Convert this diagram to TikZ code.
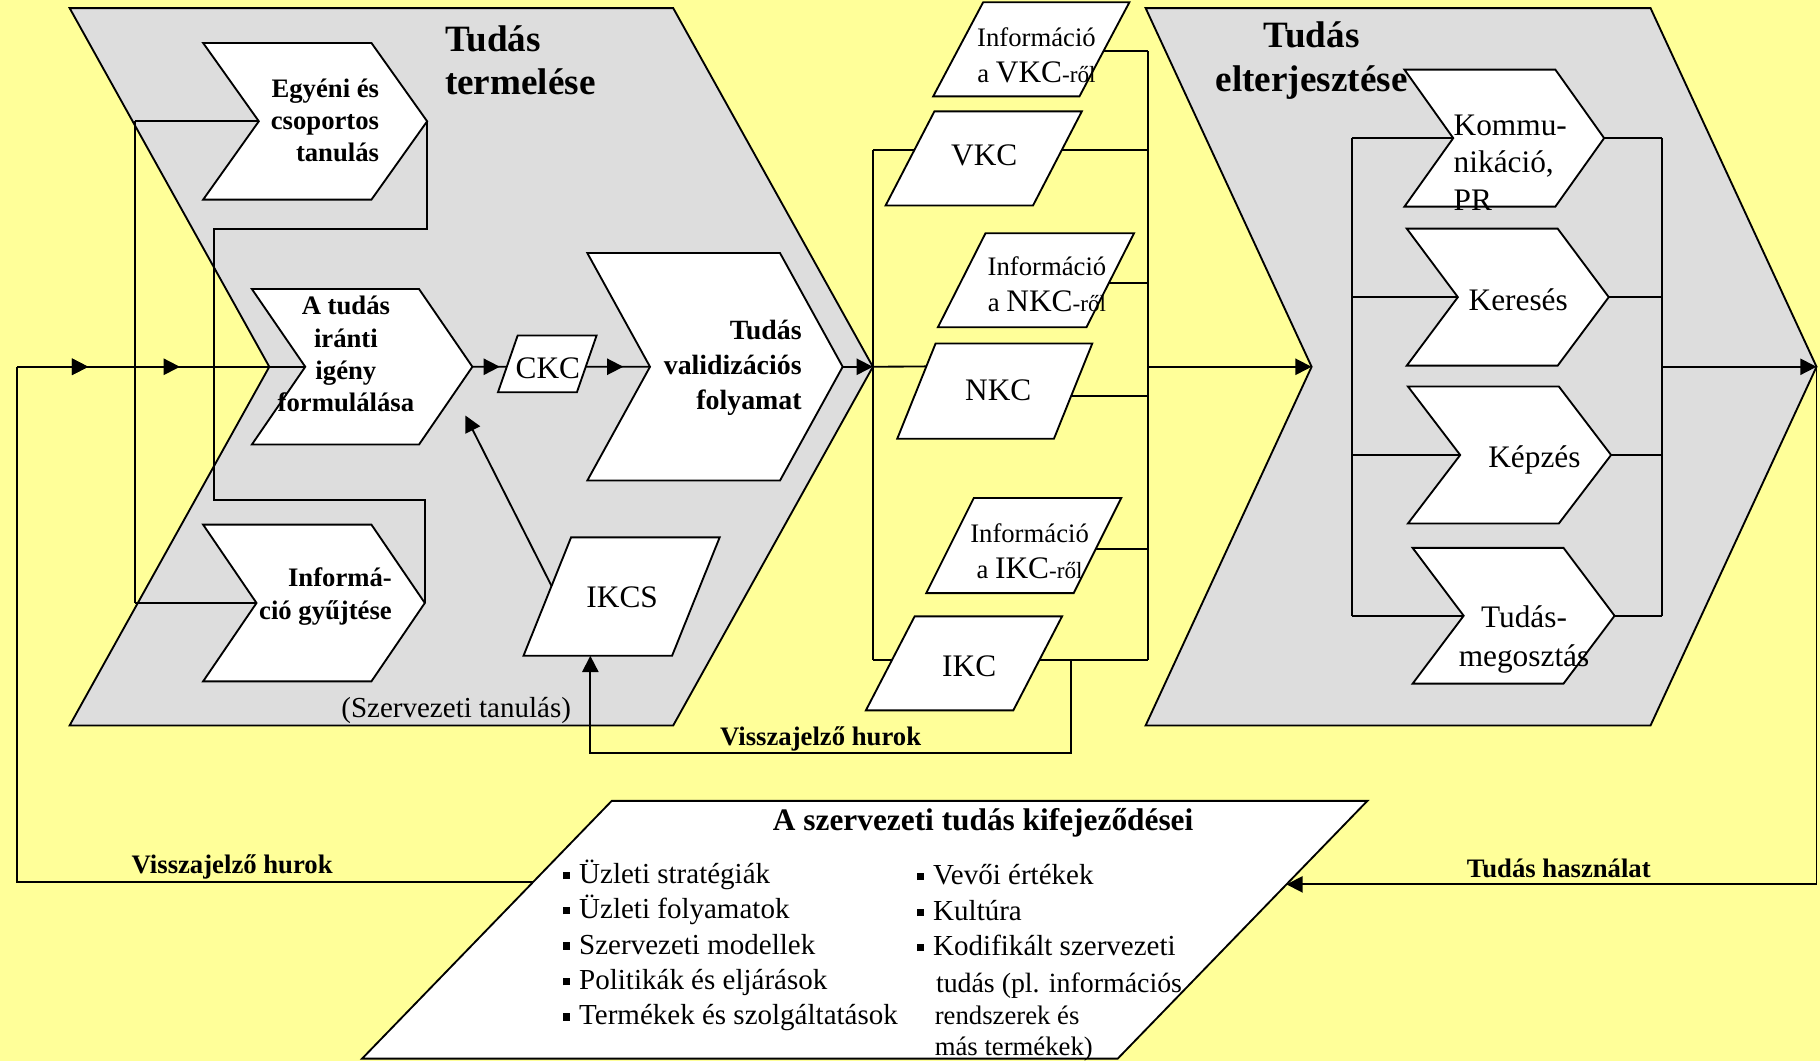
\documentclass[tikz,border=0pt]{standalone}
\usepackage{fontspec}
\setmainfont{Liberation Serif}
\usepackage{tikz}
\usetikzlibrary{calc}
\usetikzlibrary{arrows.meta}
\usetikzlibrary{positioning,decorations.markings}
\definecolor{bgyellow}{RGB}{255,255,153}
\definecolor{shadegray}{RGB}{221,221,221}
% chevron: [style]{name}{left x}{top y}{width}{height}{depth}
\newcommand{\Chevron}[7][SmallChev]{%
\draw[#1] (#3,#4) -- ++(#5,0) -- ++(#7,#6/2) -- ++(-#7,#6/2) -- ++(-#5,0) -- ++(#7,-#6/2) -- cycle;
\coordinate (#2-notch) at (#3+#7,#4+#6/2);
\coordinate (#2-tip) at (#3+#5+#7,#4+#6/2);
}
% parallelogram: [style]{name}{top left x}{top y}{width}{height}{slant}
\newcommand{\Pgram}[7][ParaBox]{%
\draw[#1] (#3,#4) coordinate (#2-tl) -- ++(#5,0) coordinate (#2-tr) -- ++(-#7,#6) coordinate (#2-br) -- ++(-#5,0) coordinate (#2-bl) -- cycle;
}
\newcommand{\fs}[2]{\fontsize{#1}{#2}\selectfont}
\newcommand{\bul}{\rule[.32ex]{2.8pt}{3.2pt}\hspace{4pt}}

\begin{document}
\begin{tikzpicture}[
x=0.5pt,y=-0.5pt,
Lines/.style={draw=black,line width=0.8pt},
Arr/.style={Lines,-{Triangle[length=7pt,width=7pt]}},
BigChev/.style={Lines,fill=shadegray},
SmallChev/.style={Lines,fill=white},
ParaBox/.style={Lines,fill=white},
TitleText/.style={font=\fs{16}{18.8}\bfseries,inner sep=0pt},
BoldText/.style={font=\fs{11.5}{13.85}\bfseries,inner sep=0pt},
BoxText/.style={font=\fs{13.5}{16.25},inner sep=0pt},
InfoText/.style={font=\fs{11.5}{15.5},inner sep=0pt,align=center},
ListText/.style={font=\fs{12.5}{15},inner sep=0pt,anchor=west,text height=9pt,text depth=3pt},
MidArr/.style={Lines,postaction={decorate},decoration={markings,
  mark=at position #1 with {\arrow{Triangle[length=7pt,width=7pt]}}}}
]
\fill[bgyellow] (0,0) rectangle (1568,914);
\useasboundingbox (0,0) rectangle (1568,914);

% big chevrons
\Chevron[BigChev]{bigL}{60}{7}{520}{618}{172}
\Chevron[BigChev]{bigR}{987}{7}{435}{618}{143}

% Tudas termelese
\Chevron{egy}{175}{37}{145}{135}{48}
\Chevron{igeny}{217}{249}{144}{134}{46}
\Chevron{info}{175}{452}{145}{135}{46}
\Chevron{val}{506}{218}{166}{196}{54}
\Pgram{ckc}{446}{289}{68}{49}{17}
\Pgram{ikcs}{492}{463}{128}{102}{41}

% middle column
\Pgram{ivkc}{847}{2}{126}{81}{43}
\Pgram{vkc}{805}{96}{127}{81}{42}
\Pgram{inkc}{849}{201}{128}{81}{41}
\Pgram{nkc}{806}{296}{135}{82}{33}
\Pgram{iikc}{839}{429}{127}{82}{41}
\Pgram{ikc}{788}{531}{127}{81}{42}

% Tudas elterjesztese
\Chevron{komm}{1210}{60}{130}{118}{42}
\Chevron{ker}{1212}{197}{130}{118}{44}
\Chevron{kep}{1213}{333}{130}{118}{45}
\Chevron{meg}{1217}{472}{130}{117}{44}

% bottom
\Pgram{sz}{527}{690}{651}{222}{215}

% attach points
\coordinate (ckc-L) at ($(ckc-tl)!0.55!(ckc-bl)$);
\coordinate (ckc-R) at ($(ckc-tr)!0.55!(ckc-br)$);
\coordinate (ikcs-A) at ($(ikcs-tl)!0.41!(ikcs-bl)$);
\coordinate (ikcs-B) at ($(ikcs-bl)!0.45!(ikcs-br)$);
\coordinate (ivkc-R) at ($(ivkc-tr)!0.52!(ivkc-br)$);
\coordinate (vkc-L) at ($(vkc-tl)!0.41!(vkc-bl)$);
\coordinate (vkc-R) at ($(vkc-tr)!0.41!(vkc-br)$);
\coordinate (inkc-R) at ($(inkc-tr)!0.53!(inkc-br)$);
\coordinate (nkc-L) at ($(nkc-tl)!0.24!(nkc-bl)$);
\coordinate (nkc-R) at ($(nkc-tr)!0.55!(nkc-br)$);
\coordinate (iikc-R) at ($(iikc-tr)!0.54!(iikc-br)$);
\coordinate (ikc-L) at ($(ikc-tl)!0.46!(ikc-bl)$);
\coordinate (ikc-R) at ($(ikc-tr)!0.46!(ikc-br)$);
\coordinate (sz-L) at ($(sz-tl)!0.315!(sz-bl)$);
\coordinate (sz-R) at ($(sz-tr)!0.324!(sz-br)$);
\coordinate (inStart) at (15,316);
\coordinate (busA) at (116,316);
\coordinate (fbTop) at (184,197);
\coordinate (fbBot) at (184,431);
\coordinate (igenyIn) at (401,358);
\coordinate (busR) at (989,316);
\coordinate (fbRight) at (923,649);
\coordinate (rbusL) at (1165,316);
\coordinate (rbusR) at (1432,316);

% connectors, left part
\draw[Lines] (sz-L) -| (inStart);
\draw[MidArr=30.5pt,postaction={decorate,decoration={markings,
  mark=at position 70pt with {\arrow{Triangle[length=7pt,width=7pt]}}}}] (inStart) -- (igeny-notch);
\draw[Lines] (busA |- egy-notch) -- (busA |- info-notch);
\draw[Lines] (busA |- egy-notch) -- (egy-notch);
\draw[Lines] (busA |- info-notch) -- (info-notch);
\draw[Lines] (egy-tip) |- (fbTop) -- (fbBot) -| (info-tip);
\draw[MidArr=-3pt] (igeny-tip) -- (ckc-L);
\draw[MidArr=-11.5pt] (ckc-R) -- (val-notch);
\draw[Arr] (val-tip) -- (bigL-tip);
\draw[Arr] (ikcs-A) -- (igenyIn);

% connectors, middle column
\draw[Lines] (bigL-tip |- vkc-L) -- (bigL-tip |- ikc-L);
\draw[Lines] (bigL-tip |- vkc-L) -- (vkc-L);
\draw[Lines] (bigL-tip) -- (nkc-L);
\draw[Lines] (bigL-tip |- ikc-L) -- (ikc-L);
\draw[Lines] (busR |- ivkc-R) -- (busR |- ikc-R);
\foreach \p in {ivkc,vkc,inkc,nkc,iikc,ikc}
  \draw[Lines] (\p-R) -- (busR |- \p-R);
\draw[Arr] (busR) -- (bigR-notch);
\draw[Arr] (fbRight |- ikc-R) -- (fbRight) -| (ikcs-B);

% connectors, right part
\draw[Lines] (rbusL |- komm-notch) -- (rbusL |- meg-notch);
\draw[Lines] (rbusR |- komm-tip) -- (rbusR |- meg-tip);
\foreach \c in {komm,ker,kep,meg}{
  \draw[Lines] (rbusL |- \c-notch) -- (\c-notch);
  \draw[Lines] (\c-tip) -- (rbusR |- \c-tip);
}
\draw[Arr] (rbusR) -- (bigR-tip);
\draw[Arr] (bigR-tip) |- (sz-R);

% titles
\node[TitleText,anchor=west,align=left] (T1) at (383,52) {Tudás\\termelése};
\node[TitleText,align=center] (T2) at (1130,52) {Tudás\\elterjesztése};

% texts
\node[BoldText,anchor=east,align=right] (egyT) at (327,104) {Egyéni és\\csoportos\\tanulás};
\node[BoldText,align=center] (igenyT) at (298,305) {A tudás\\iránti\\igény\\formulálása};
\node[BoldText,anchor=east,align=right] (infoT) at (338,514) {Informá-\\ció gyűjtése};
\node[BoldText,font=\fs{12}{15}\bfseries,anchor=east,align=right] (valT) at (691,317) {Tudás\\validizációs\\folyamat};
\node[BoxText] (ckcT) at (472,317) {CKC};
\node[BoxText] (ikcsT) at (536,515) {IKCS};
\node[font=\fs{12.5}{15},inner sep=0pt] (szT) at (393,612) {(Szervezeti tanulás)};

\node[InfoText] (ivkcT) at (893,48) {Információ\\a {\fs{13.5}{15.5}VKC}{\fs{10}{15.5}-ről}};
\node[BoxText] (vkcT) at (848,134) {VKC};
\node[InfoText] (inkcT) at (902,245) {Információ\\a {\fs{13.5}{15.5}NKC}{\fs{10}{15.5}-ről}};
\node[BoxText] (nkcT) at (860,336) {NKC};
\node[InfoText] (iikcT) at (887,475) {Információ\\a {\fs{13.5}{15.5}IKC}{\fs{10}{15.5}-ről}};
\node[BoxText] (ikcT) at (835,574) {IKC};

\node[BoxText,anchor=west,align=left] (kommT) at (1252,140) {Kommu-\\nikáció,\\PR};
\node[BoxText] (kerT) at (1308,258) {Keresés};
\node[BoxText] (kepT) at (1322,396) {Képzés};
\node[BoxText,font=\fs{13.5}{17},align=center] (megT) at (1313,551) {Tudás-\\megosztás};

\node[BoldText] (loop1) at (707,637) {Visszajelző hurok};
\node[BoldText] (loop2) at (200,747) {Visszajelző hurok};
\node[BoldText] (use) at (1343,748) {Tudás használat};

% bottom box
\node[BoldText,font=\fs{13.5}{16}\bfseries] (szTitle) at (847,709) {A szervezeti tudás kifejeződései};
\foreach \t [count=\i] in {Üzleti stratégiák,Üzleti folyamatok,Szervezeti modellek,Politikák és eljárások,Termékek és szolgáltatások}
  \node[ListText] (L\i) at (485,{755+30.5*(\i-1)}) {\bul\t};
\node[ListText] (R1) at (790,756) {\bul Vevői értékek};
\node[ListText] (R2) at (790,787) {\bul Kultúra};
\node[ListText] (R3) at (790,817) {\bul Kodifikált szervezeti};
\node[ListText,font=\fs{12}{15}] (R4) at (806,849) {tudás (pl. információs};
\node[ListText,font=\fs{11.5}{15}] (R5) at (805,877) {rendszerek és};
\node[ListText,font=\fs{11.5}{15}] (R6) at (805,903) {más termékek)};
\end{tikzpicture}
\end{document}
